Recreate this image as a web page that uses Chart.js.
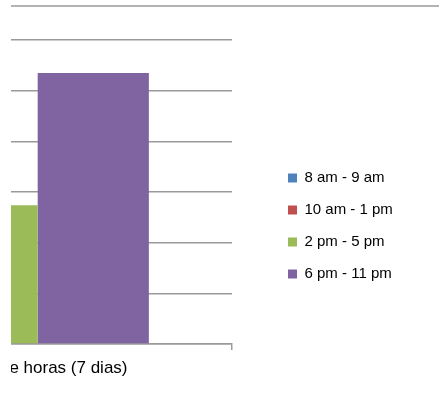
<!DOCTYPE html>
<html>
<head>
<meta charset="utf-8">
<script src="https://cdn.jsdelivr.net/npm/chart.js@4"></script>
<style>
    body { margin: 0; background: #fff; }
    #wrap { position: absolute; left: 11px; top: 0; width: 428px; height: 404px; overflow: hidden; }
    #chart { position: absolute; left: -390px; top: 0; }
</style>
</head>
<body>
<div id="wrap"><canvas id="chart" width="818" height="404"></canvas></div>
<script>
// The picture is a crop: only the right part of the plot is visible
const categories = ["Número de horas (7 dias)"];
const seriesNames = ["8 am - 9 am", "10 am - 1 pm", "2 pm - 5 pm", "6 pm - 11 pm"];
// blue and red bars fall outside the visible crop, so their values can't be read
const morning = [null];
const midday = [null];
const afternoon = [27.4];
const evening = [53.5];
const yTicks = [0, 10, 20, 30, 40, 50, 60];

const colors = ["#4F81BD", "#C0504D", "#9BBB59", "#8064A2"];
const gridColor = "#9a9a9a";

// Line across the top of the crop
const topLine = {
    id: "topLine",
    afterDraw(chart) {
        const ctx = chart.ctx;
        ctx.save();
        ctx.strokeStyle = gridColor;
        ctx.lineWidth = 1.5;
        ctx.beginPath();
        ctx.moveTo(0, 6);
        ctx.lineTo(chart.width, 6);
        ctx.stroke();
        ctx.restore();
    }
};

const ctx = document.querySelector("#chart").getContext("2d");

const chart = new Chart(ctx, {
    type: "bar",
    data: {
        labels: categories,
        datasets: [morning, midday, afternoon, evening].map((values, i) => ({
            label: seriesNames[i],
            data: values,
            backgroundColor: colors[i],
            borderWidth: 0
        }))
    },
    options: {
        responsive: false,
        animation: false,
        devicePixelRatio: 1,
        categoryPercentage: 444 / 610,
        barPercentage: 1,
        layout: { padding: { top: 40, bottom: 0, left: 0, right: 38 } },
        plugins: {
            tooltip: { enabled: false },
            legend: {
                position: "right",
                title: { display: true, text: "", font: { size: 6.67 }, padding: 0 },
                labels: {
                    boxWidth: 9,
                    boxHeight: 9,
                    padding: 17,
                    color: "#000",
                    font: { family: "Liberation Sans", size: 15 }
                }
            }
        },
        scales: {
            x: {
                offset: true,
                border: { display: true, color: gridColor, width: 1.5 },
                grid: { drawOnChartArea: false, drawTicks: true, tickLength: 6, color: gridColor, lineWidth: 1.5 },
                ticks: {
                    align: "end",
                    labelOffset: 201,
                    color: "#000",
                    padding: 8,
                    font: { family: "Liberation Sans", size: 17 }
                },
                afterFit(scale) { scale.height = 60; }
            },
            y: {
                min: yTicks[0],
                max: yTicks[yTicks.length - 1],
                border: { display: false },
                grid: { color: gridColor, lineWidth: 1.5, drawTicks: false },
                ticks: { display: false, stepSize: yTicks[1] - yTicks[0] },
                afterFit(scale) { scale.width = 0; }
            },
            y2: {
                position: "right",
                display: true,
                border: { display: false },
                grid: { display: false },
                ticks: { display: false },
                afterFit(scale) { scale.width = 39; }
            }
        }
    },
    plugins: [topLine]
});
</script>
</body>
</html>
